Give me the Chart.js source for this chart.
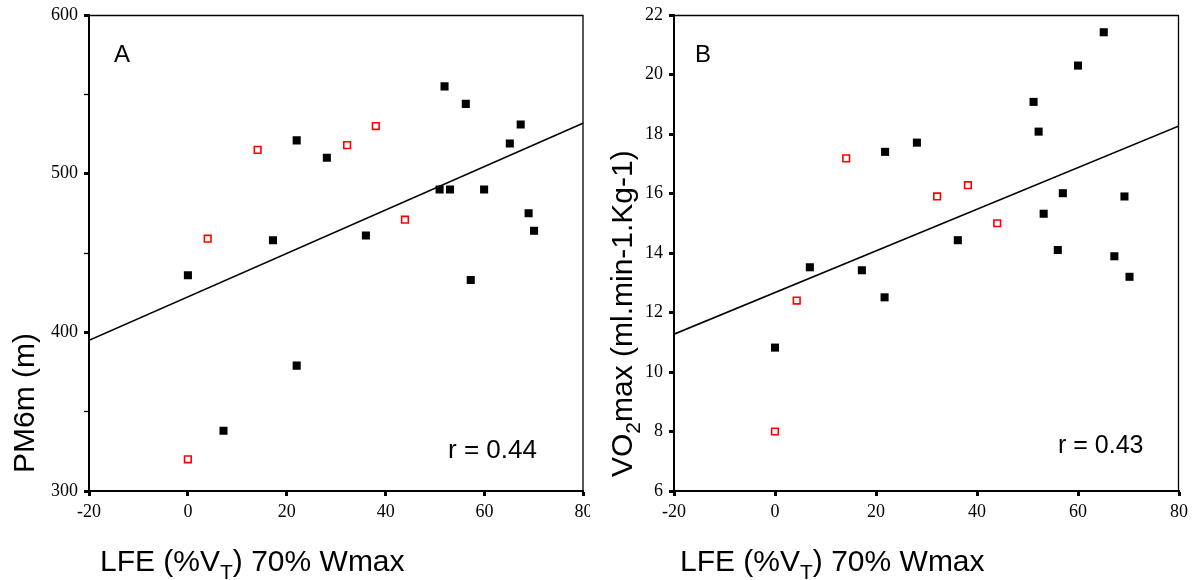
<!DOCTYPE html>
<html>
<head>
<meta charset="utf-8">
<title>LFE vs PM6m and VO2max</title>
<script src="https://cdn.jsdelivr.net/npm/chart.js@4.4.0/dist/chart.umd.min.js"></script>
<style>
  body { margin: 0; background: #fff; }
  #wrap { position: relative; width: 1195px; height: 580px; }
  canvas { position: absolute; top: 0; }
</style>
</head>
<body>
<div id="wrap">
  <canvas id="chartA" width="590" height="580" style="left:0"></canvas>
  <canvas id="chartB" width="605" height="580" style="left:590px"></canvas>
</div>
<script>
// Panel A: PM6m (m) against LFE (%VT) 70% Wmax
var lfeBlackA = [0, 7.2, 17.2, 22, 22, 28.1, 36, 50.9, 51.9, 53, 56.2, 57.2, 59.9, 65.1, 67.3, 68.9, 70];
var pm6mBlack = [436, 338, 458, 379, 521, 510, 461, 490, 555, 490, 544, 433, 490, 519, 531, 475, 464];
var lfeRedA = [0, 4, 14.1, 32.2, 38, 43.9];
var pm6mRed = [320, 459, 515, 518, 530, 471];
var fitXA = [-20, 80];
var fitYA = [395, 532];

// Panel B: VO2max (ml.min-1.Kg-1) against LFE (%VT) 70% Wmax
var lfeBlackB = [0, 6.9, 17.2, 21.7, 21.8, 28.1, 36.2, 51.2, 52.2, 53.2, 56, 57, 60, 65.1, 67.2, 69.2, 70.2];
var vo2Black = [10.82, 13.52, 13.42, 12.51, 17.4, 17.71, 14.43, 19.08, 18.08, 15.32, 14.1, 16.01, 20.3, 21.42, 13.89, 15.9, 13.2];
var lfeRedB = [0, 4.3, 14.1, 32.1, 38.2, 44];
var vo2Red = [8.0, 12.4, 17.18, 15.9, 16.28, 15.0];
var fitXB = [-20, 80];
var fitYB = [11.27, 18.27];

var xTicks = [-20, 0, 20, 40, 60, 80];
var yTicksA = [300, 400, 500, 600];   // labelled; minor marks every 50
var yTicksB = [6, 8, 10, 12, 14, 16, 18, 20, 22];

var xTitle = [{ t: 'LFE (%V' }, { t: 'T', sub: true }, { t: ') 70% Wmax' }];
var yTitleA = [{ t: 'PM6m (m)' }];
var yTitleB = [{ t: 'VO' }, { t: '2', sub: true }, { t: 'max (ml.min-1.Kg-1)' }];

var SANS = '"Liberation Sans", Arial, sans-serif';
var SERIF = '"Liberation Serif", "Times New Roman", serif';

function pts(xs, ys) {
  return xs.map(function (x, i) { return { x: x, y: ys[i] }; });
}

function drawParts(ctx, parts, x, y, size) {
  parts.forEach(function (p) {
    var s = p.sub ? Math.round(size * 0.7) : size;
    ctx.font = s + 'px ' + SANS;
    ctx.fillText(p.t, x, y + (p.sub ? size * 0.27 : 0));
    x += ctx.measureText(p.t).width;
  });
}

// frame, panel letter, r value and axis titles
var decor = {
  id: 'decor',
  afterDraw: function (chart, args, o) {
    var ctx = chart.ctx, a = chart.chartArea;
    ctx.save();
    ctx.strokeStyle = '#000';
    ctx.lineWidth = 1.3;
    ctx.beginPath();
    ctx.moveTo(a.left, a.top + 0.5);
    ctx.lineTo(a.right - 0.5, a.top + 0.5);
    ctx.lineTo(a.right - 0.5, a.bottom);
    ctx.stroke();

    ctx.fillStyle = '#000';
    ctx.textBaseline = 'alphabetic';
    ctx.textAlign = 'left';
    ctx.font = '24px ' + SANS;
    ctx.fillText(o.letter, a.left + o.letterDx, 62);
    ctx.font = o.rSize + 'px ' + SANS;
    ctx.fillText(o.rText, o.rX, o.rY);

    drawParts(ctx, xTitle, a.left + o.xTitleDx, 571, 30);

    ctx.translate(o.yTitleX, a.bottom - o.yTitleDy);
    ctx.rotate(-Math.PI / 2);
    drawParts(ctx, o.yTitle, 0, 0, 30);
    ctx.restore();
  }
};

function makeChart(id, c) {
  return new Chart(document.getElementById(id), {
    type: 'scatter',
    data: {
      datasets: [
        {
          data: pts(c.fitX, c.fitY),
          showLine: true,
          borderColor: '#000',
          borderWidth: 1.6,
          pointRadius: 0
        },
        {
          data: pts(c.blackX, c.blackY),
          pointStyle: 'rect',
          pointRadius: 5.7,
          backgroundColor: '#000',
          borderColor: '#000',
          borderWidth: 0
        },
        {
          data: pts(c.redX, c.redY),
          pointStyle: 'rect',
          pointRadius: 4.7,
          backgroundColor: '#fff',
          borderColor: '#ff0000',
          borderWidth: 1.6
        }
      ]
    },
    options: {
      responsive: false,
      animation: false,
      devicePixelRatio: 1,
      layout: { padding: { top: 15, right: c.padRight, left: 0, bottom: 0 } },
      plugins: {
        legend: { display: false },
        tooltip: { enabled: false },
        decor: c.decor
      },
      scales: {
        x: {
          type: 'linear',
          min: -20, max: 80,
          afterBuildTicks: function (s) { s.ticks = xTicks.map(function (v) { return { value: v }; }); },
          ticks: { color: '#000', font: { family: SERIF, size: 18 }, padding: 5, maxRotation: 0, autoSkip: false },
          grid: { drawOnChartArea: false, tickLength: 5, tickWidth: 3, tickColor: '#000' },
          border: { color: '#000', width: 2 },
          afterFit: function (s) { s.height = 89; s.paddingLeft = 0; s.paddingRight = 0; }
        },
        y: {
          type: 'linear',
          min: c.yMin, max: c.yMax,
          afterBuildTicks: function (s) {
            var t = [];
            for (var v = c.yMin; v <= c.yMax + 1e-9; v += c.yStep) t.push({ value: v });
            s.ticks = t;
          },
          ticks: {
            color: '#000', font: { family: SERIF, size: 18 }, padding: 6, autoSkip: false,
            callback: function (v) { return c.yLabels.indexOf(v) >= 0 ? String(v) : ''; }
          },
          grid: {
            drawOnChartArea: false, tickLength: 5, tickColor: '#000',
            tickWidth: function (ctx) { return ctx.tick && c.yLabels.indexOf(ctx.tick.value) >= 0 ? 3 : 1.3; }
          },
          border: { color: '#000', width: 2 },
          afterFit: function (s) { s.width = c.yAxisWidth; s.paddingTop = 0; s.paddingBottom = 0; }
        }
      }
    },
    plugins: [decor]
  });
}

makeChart('chartA', {
  fitX: fitXA, fitY: fitYA,
  blackX: lfeBlackA, blackY: pm6mBlack,
  redX: lfeRedA, redY: pm6mRed,
  yMin: 300, yMax: 600, yStep: 50, yLabels: yTicksA,
  yAxisWidth: 89, padRight: 6.5,
  decor: { letter: 'A', letterDx: 25, rText: 'r = 0.44', rSize: 26, rX: 448, rY: 458,
           xTitleDx: 11, yTitle: yTitleA, yTitleX: 34, yTitleDy: 18 }
});

makeChart('chartB', {
  fitX: fitXB, fitY: fitYB,
  blackX: lfeBlackB, blackY: vo2Black,
  redX: lfeRedB, redY: vo2Red,
  yMin: 6, yMax: 22, yStep: 2, yLabels: yTicksB,
  yAxisWidth: 84, padRight: 16,
  decor: { letter: 'B', letterDx: 21, rText: 'r = 0.43', rSize: 25, rX: 468, rY: 453,
           xTitleDx: 6, yTitle: yTitleB, yTitleX: 42, yTitleDy: 14 }
});
</script>
</body>
</html>
